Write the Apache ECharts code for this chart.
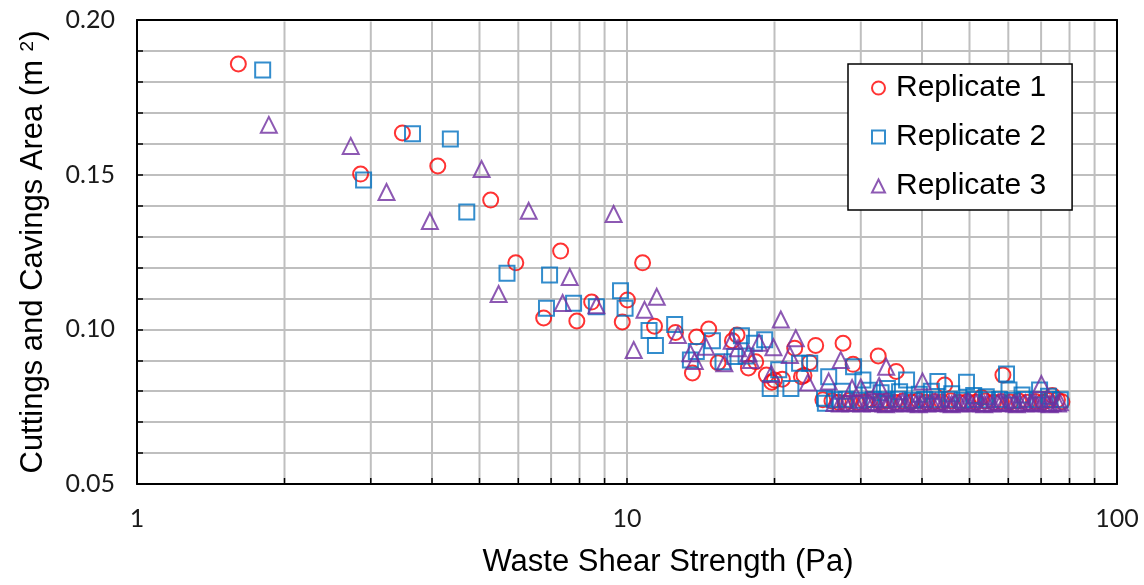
<!DOCTYPE html>
<html>
<head>
<meta charset="utf-8">
<script src="https://cdn.jsdelivr.net/npm/echarts@6/dist/echarts.min.js"></script>
<style>
  html, body { margin: 0; padding: 0; background: #ffffff; }
  #chart { width: 1144px; height: 585px; }
</style>
</head>
<body>
<div id="chart"></div>
<script>
// Axis ranges and tick values
const xRange = [1, 100];
const yRange = [0.05, 0.20];
const yStep = 0.05;
const xMinorValues = [2, 3, 4, 5, 6, 7, 8, 9, 20, 30, 40, 50, 60, 70, 80, 90];

const seriesNames = ['Replicate 1', 'Replicate 2', 'Replicate 3'];

// [shear strength (Pa), area (m^2)]
const replicate1 = [
  [1.61, 0.1858], [2.86, 0.1502], [3.48, 0.1635], [4.11, 0.1528], [5.27, 0.1418],
  [5.93, 0.1215], [6.76, 0.1037], [7.32, 0.1253], [7.90, 0.1027], [8.47, 0.1088],
  [9.78, 0.1024], [10.02, 0.1095], [10.76, 0.1215], [11.38, 0.1010], [12.56, 0.0990],
  [13.6, 0.0859], [13.87, 0.0975], [14.68, 0.1001], [15.34, 0.0892], [16.41, 0.0963],
  [16.77, 0.0982], [17.69, 0.0875], [18.31, 0.0895], [19.25, 0.0852], [19.74, 0.0829],
  [20.0, 0.0836], [20.75, 0.0839], [21.99, 0.0939], [22.7, 0.0847], [22.97, 0.0851],
  [23.6, 0.0893], [24.27, 0.0948], [25.1, 0.0772], [27.6, 0.0955], [27.9, 0.0761],
  [28.93, 0.0887], [32.56, 0.0914], [35.43, 0.0864], [44.5, 0.0820], [52.9, 0.0780],
  [58.5, 0.0852], [73.8, 0.0786],
  [26.2, 0.0768], [27.0, 0.0764], [28.4, 0.0770], [29.5, 0.0763], [30.6, 0.0767],
  [31.4, 0.0773], [32.9, 0.0765], [34.0, 0.0769], [35.2, 0.0764], [36.6, 0.0768],
  [38.0, 0.0765], [39.3, 0.0770], [40.8, 0.0764], [42.4, 0.0767], [43.9, 0.0765],
  [45.8, 0.0769], [47.6, 0.0764], [49.5, 0.0767], [51.6, 0.0765], [53.8, 0.0768],
  [56.0, 0.0764], [58.1, 0.0767], [60.6, 0.0765], [63.0, 0.0768], [65.6, 0.0764],
  [68.1, 0.0767], [70.7, 0.0765], [72.4, 0.0770], [75.6, 0.0772], [77.2, 0.0766]
];

const replicate2 = [
  [1.805, 0.1838], [2.90, 0.1483], [3.65, 0.1632], [4.36, 0.1615], [4.71, 0.1379],
  [5.69, 0.1181], [6.85, 0.1068], [6.95, 0.1176], [7.78, 0.1084], [8.66, 0.1073],
  [9.70, 0.1125], [9.91, 0.1068], [11.09, 0.0996], [11.43, 0.0948], [12.51, 0.1016],
  [13.47, 0.0901], [13.85, 0.0928], [14.94, 0.0963], [15.7, 0.0895], [16.59, 0.0912],
  [17.12, 0.0979], [17.5, 0.0914], [18.2, 0.0955], [19.1, 0.0966], [19.6, 0.0809],
  [20.4, 0.0869], [21.6, 0.0809], [22.5, 0.0890], [23.6, 0.0890], [25.3, 0.0777],
  [25.4, 0.0761], [25.8, 0.0847], [29.0, 0.0879], [30.3, 0.0836], [34.0, 0.0809],
  [37.2, 0.0836], [43.1, 0.0831], [49.3, 0.0829], [54.1, 0.0782], [59.5, 0.0856],
  [60.2, 0.0804], [69.5, 0.0804],
  [27.5, 0.0800], [31.2, 0.0803], [33.0, 0.0795], [36.0, 0.0798], [39.5, 0.0790],
  [41.8, 0.0800], [46.0, 0.0792], [51.0, 0.0786], [64.0, 0.0788], [72.5, 0.0784],
  [26.5, 0.0772], [28.0, 0.0774], [29.8, 0.0771], [31.8, 0.0773], [33.8, 0.0772],
  [35.8, 0.0774], [38.2, 0.0771], [40.5, 0.0773], [43.0, 0.0772], [45.5, 0.0774],
  [48.3, 0.0771], [51.2, 0.0773], [54.4, 0.0772], [57.6, 0.0773], [61.2, 0.0771],
  [64.9, 0.0773], [68.8, 0.0772], [73.0, 0.0773], [76.6, 0.0772]
];

const replicate3 = [
  [1.858, 0.1661], [2.73, 0.1593], [3.23, 0.1444], [3.96, 0.1350], [5.05, 0.1518],
  [5.47, 0.1114], [6.30, 0.1383], [7.39, 0.1085], [7.64, 0.1169], [8.66, 0.1078],
  [9.39, 0.1373], [10.32, 0.0933], [10.86, 0.1063], [11.5, 0.1105], [12.7, 0.0982],
  [13.47, 0.0923], [13.75, 0.0898], [14.5, 0.0944], [15.8, 0.0890], [16.36, 0.0963],
  [16.85, 0.0939], [17.7, 0.0923], [17.9, 0.0901], [18.6, 0.0957], [19.7, 0.0856],
  [19.9, 0.0942], [20.6, 0.1032], [21.5, 0.0917], [22.1, 0.0971], [23.4, 0.0828],
  [25.8, 0.0831], [27.3, 0.0901], [28.8, 0.0810], [30.0, 0.0812], [32.7, 0.0817],
  [33.8, 0.0879], [40.1, 0.0831], [70.1, 0.0823],
  [26.5, 0.0762], [27.2, 0.0760], [27.9, 0.0763], [28.6, 0.0761], [29.4, 0.0762],
  [30.1, 0.0760], [30.9, 0.0763], [31.7, 0.0761], [32.5, 0.0762], [33.4, 0.0760],
  [34.2, 0.0763], [35.1, 0.0761], [36.0, 0.0762], [37.0, 0.0760], [37.9, 0.0763],
  [38.9, 0.0761], [39.9, 0.0762], [41.0, 0.0760], [42.0, 0.0763], [43.1, 0.0761],
  [44.2, 0.0762], [45.4, 0.0760], [46.6, 0.0763], [47.8, 0.0761], [49.0, 0.0762],
  [50.3, 0.0760], [51.6, 0.0763], [52.9, 0.0761], [54.3, 0.0762], [55.7, 0.0760],
  [57.2, 0.0763], [58.7, 0.0761], [60.2, 0.0762], [61.7, 0.0760], [63.3, 0.0763],
  [65.0, 0.0761], [66.7, 0.0762], [68.4, 0.0760], [70.2, 0.0763], [72.0, 0.0761],
  [73.9, 0.0762], [75.8, 0.0760],
  [31.3, 0.0765], [33.8, 0.0758], [36.5, 0.0765], [39.4, 0.0758], [42.6, 0.0765],
  [46.0, 0.0758], [49.6, 0.0765], [53.6, 0.0758], [57.9, 0.0765], [62.5, 0.0758],
  [67.5, 0.0765], [72.9, 0.0758], [76.5, 0.0764]
];

const colors = ['#ff0000', '#0070c0', '#7030a0'];
const symbols = ['circle', 'rect', 'triangle'];
const symbolSizes = [15, 15, 16];

const labelFont = 'Lato, "Open Sans", sans-serif';
const titleFont = '"Liberation Sans", Arial, sans-serif';
const gridColor = '#bfbfbf';

const chart = echarts.init(document.getElementById('chart'), null, { renderer: 'canvas' });

const scatterSeries = [replicate1, replicate2, replicate3].map((data, i) => ({
  name: seriesNames[i],
  type: 'scatter',
  data: data,
  symbol: symbols[i],
  symbolSize: symbolSizes[i],
  z: 3,
  itemStyle: {
    color: 'rgba(255,255,255,0)',
    borderColor: colors[i],
    borderWidth: 2
  },
  emphasis: { disabled: true }
}));

// Minor vertical grid lines and inside ticks for the log x axis
const minorGridSeries = {
  type: 'custom',
  silent: true,
  z: 1,
  data: xMinorValues.map(v => [v, yRange[0]]),
  renderItem: (params, api) => {
    const x = api.value(0);
    const top = api.coord([x, yRange[1]]);
    const bottom = api.coord([x, yRange[0]]);
    return {
      type: 'group',
      children: [
        {
          type: 'line',
          shape: { x1: top[0], y1: top[1] + 1.5, x2: bottom[0], y2: bottom[1] - 1.5 },
          style: { stroke: gridColor, lineWidth: 2 }
        },
        {
          type: 'line',
          shape: { x1: bottom[0], y1: bottom[1], x2: bottom[0], y2: bottom[1] - 6 },
          style: { stroke: '#000', lineWidth: 1.5 }
        }
      ]
    };
  }
};

const option = {
  animation: false,
  backgroundColor: '#ffffff',
  grid: { left: 137, top: 20, right: 27, bottom: 101, containLabel: false },
  legend: {
    data: seriesNames,
    orient: 'vertical',
    left: 848,
    top: 64,
    backgroundColor: '#ffffff',
    borderColor: '#000000',
    borderWidth: 1.5,
    borderRadius: 0,
    padding: [7, 26, 7, 23],
    itemGap: 15,
    itemWidth: 13,
    itemHeight: 13,
    selectedMode: false,
    textStyle: {
      fontFamily: titleFont,
      fontSize: 30,
      color: '#000000',
      lineHeight: 34,
      padding: [0, 0, 0, 6]
    }
  },
  xAxis: [
    {
      type: 'log',
      logBase: 10,
      min: xRange[0],
      max: xRange[1],
      name: 'Waste Shear Strength (Pa)',
      nameLocation: 'middle',
      nameGap: 63,
      nameTextStyle: {
        fontFamily: titleFont,
        fontSize: 31,
        color: '#000000',
        padding: [0, 0, 0, 82]
      },
      axisLine: { show: true, onZero: false, lineStyle: { color: '#000000', width: 2 } },
      axisTick: { show: true, inside: true, length: 6, lineStyle: { color: '#000000', width: 1.5 } },
      axisLabel: { fontFamily: labelFont, fontSize: 25, color: '#1a1a1a', margin: 22 },
      splitLine: { show: true, showMinLine: false, showMaxLine: false, lineStyle: { color: gridColor, width: 2 } }
    },
    {
      type: 'log',
      logBase: 10,
      min: xRange[0],
      max: xRange[1],
      position: 'top',
      axisLine: { show: true, lineStyle: { color: '#000000', width: 2 } },
      axisTick: { show: false },
      axisLabel: { show: false },
      splitLine: { show: false }
    }
  ],
  yAxis: [
    {
      type: 'value',
      min: yRange[0],
      max: yRange[1],
      interval: yStep,
      name: 'Cuttings and Cavings Area (m {sup|2})',
      nameLocation: 'middle',
      nameGap: 88,
      nameRotate: 90,
      nameTextStyle: {
        fontFamily: titleFont,
        fontSize: 31,
        color: '#000000',
        rich: {
          sup: { fontFamily: titleFont, fontSize: 19, color: '#000000', verticalAlign: 'top', padding: [0, 0, 10, 0] }
        }
      },
      axisLine: { show: true, onZero: false, lineStyle: { color: '#000000', width: 2 } },
      axisTick: { show: true, inside: true, length: 6, lineStyle: { color: '#000000', width: 1.5 } },
      minorTick: { show: true, splitNumber: 5, length: 6, lineStyle: { color: '#000000', width: 1.5 } },
      axisLabel: {
        fontFamily: labelFont,
        fontSize: 25,
        color: '#1a1a1a',
        margin: 22,
        formatter: v => v.toFixed(2)
      },
      splitLine: { show: true, showMinLine: false, showMaxLine: false, lineStyle: { color: gridColor, width: 2 } },
      minorSplitLine: { show: true, lineStyle: { color: gridColor, width: 2 } }
    },
    {
      type: 'value',
      min: yRange[0],
      max: yRange[1],
      position: 'right',
      axisLine: { show: true, lineStyle: { color: '#000000', width: 2 } },
      axisTick: { show: false },
      axisLabel: { show: false },
      splitLine: { show: false }
    }
  ],
  series: [minorGridSeries].concat(scatterSeries)
};

chart.setOption(option);
</script>
</body>
</html>
